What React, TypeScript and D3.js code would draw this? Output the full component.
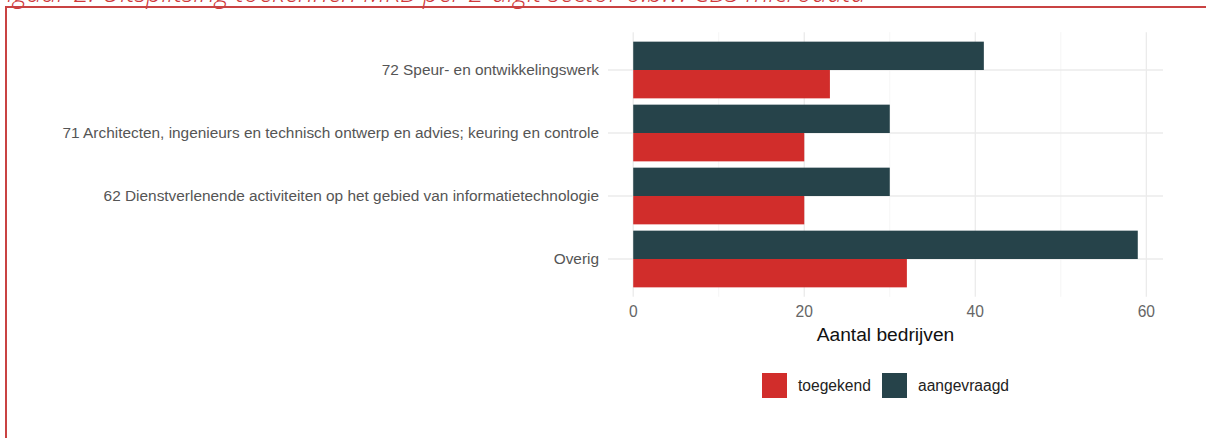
import React from "react";
import * as d3 from "d3";

const categories = [
  "72 Speur- en ontwikkelingswerk",
  "71 Architecten, ingenieurs en technisch ontwerp en advies; keuring en controle",
  "62 Dienstverlenende activiteiten op het gebied van informatietechnologie",
  "Overig",
];
const aangevraagd = [41, 30, 30, 59];
const toegekend = [23, 20, 20, 32];
const seriesNames = ["aangevraagd", "toegekend"];
const legendOrder = ["toegekend", "aangevraagd"];
const majorTicks = [0, 20, 40, 60];
const minorTicks = [10, 30, 50];
const titleText = "Figuur 2: Uitsplitsing toekennen MKB per 2-digit sector o.b.v. CBS microdata";
const xTitle = "Aantal bedrijven";

const W = 1206;
const H = 438;
const colors: Record<string, string> = { toegekend: "#d12d2b", aangevraagd: "#26434a" };
const FONT = "'Liberation Sans', Arial, sans-serif";

export default function App() {
  const maxV = d3.max([...aangevraagd, ...toegekend]) as number;
  const pad = maxV * 0.05;
  const x = d3.scaleLinear().domain([-pad, maxV + pad]).range([608, 1163]);
  const y = d3
    .scaleBand<string>()
    .domain(categories)
    .range([32.2, 296.8])
    .paddingInner(0.1)
    .paddingOuter(0.15);
  const inner = d3.scaleBand<string>().domain(seriesNames).range([0, y.bandwidth()]);
  const values: Record<string, number[]> = { aangevraagd, toegekend };
  const [x0, x1] = x.range();
  const [yTop, yBot] = [32.2, 296.8];

  return (
    <svg
      width={W}
      height={H}
      style={{ position: "absolute", left: 0, top: 0, display: "block", background: "#fff" }}
    >
      {/* title, cut off at the top */}
      <text
        x={-6}
        y={1.5}
        fill="#d0393b"
        fontFamily="'Open Sans', 'Noto Sans', sans-serif"
        fontStyle="italic"
        fontWeight={300}
        fontSize={26.8}
      >
        {titleText}
      </text>
      {/* frame */}
      <line x1={6} x2={W} y1={7} y2={7} stroke="#c94343" strokeWidth={2} />
      <line x1={6} x2={6} y1={6} y2={H} stroke="#c94343" strokeWidth={2} />

      {/* grid */}
      {minorTicks.map((t) => (
        <line key={"mn" + t} x1={x(t)} x2={x(t)} y1={yTop} y2={yBot} stroke="#f0f0f0" strokeWidth={0.7} />
      ))}
      {majorTicks.map((t) => (
        <line key={"mj" + t} x1={x(t)} x2={x(t)} y1={yTop} y2={yBot} stroke="#ebebeb" strokeWidth={1.3} />
      ))}
      {categories.map((c) => (
        <line
          key={"hg" + c}
          x1={x0}
          x2={x1}
          y1={(y(c) as number) + y.bandwidth() / 2}
          y2={(y(c) as number) + y.bandwidth() / 2}
          stroke="#ebebeb"
          strokeWidth={1.3}
        />
      ))}

      {/* bars */}
      {categories.map((c, i) =>
        seriesNames.map((s) => (
          <rect
            key={c + s}
            x={x(0)}
            y={(y(c) as number) + (inner(s) as number)}
            width={x(values[s][i]) - x(0)}
            height={inner.bandwidth()}
            fill={colors[s]}
          />
        ))
      )}

      {/* y labels */}
      {categories.map((c) => (
        <text
          key={"yl" + c}
          x={599}
          y={(y(c) as number) + y.bandwidth() / 2}
          dy="0.35em"
          textAnchor="end"
          fontFamily={FONT}
          fontSize={15.4}
          fill="#555555"
        >
          {c}
        </text>
      ))}

      {/* x tick labels */}
      {majorTicks.map((t) => (
        <text
          key={"xl" + t}
          x={x(t)}
          y={312}
          dy="0.35em"
          textAnchor="middle"
          fontFamily={FONT}
          fontSize={15.6}
          fill="#666666"
        >
          {t}
        </text>
      ))}
      <text
        x={(x0 + x1) / 2}
        y={334}
        dy="0.35em"
        textAnchor="middle"
        fontFamily={FONT}
        fontSize={19.2}
        fill="#111"
      >
        {xTitle}
      </text>

      {/* legend */}
      {legendOrder.map((s, i) => {
        const lx = i === 0 ? 762 : 882;
        return (
          <g key={"lg" + s}>
            <rect x={lx} y={373} width={25} height={25} fill={colors[s]} />
            <text
              x={lx + 36}
              y={386}
              dy="0.35em"
              fontFamily={FONT}
              fontSize={15.6}
              fill="#222"
            >
              {s}
            </text>
          </g>
        );
      })}
    </svg>
  );
}
